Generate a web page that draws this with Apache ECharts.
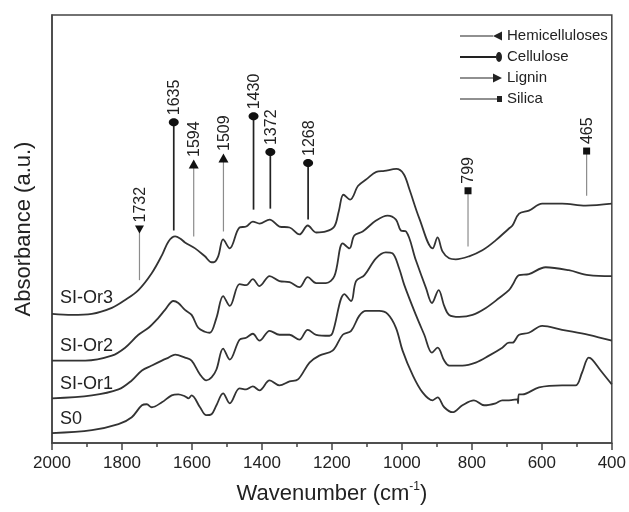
<!DOCTYPE html>
<html><head><meta charset="utf-8">
<script src="https://cdn.jsdelivr.net/npm/echarts@6/dist/echarts.min.js"></script>
<style>html,body{margin:0;padding:0;background:#fff}#c{width:629px;height:512px}</style>
</head><body><div id="c"></div>
<script>
// Spectra: [wavenumber (cm-1), absorbance (a.u., offset stacked)]
const specSIOr3 = [[2000,130],[1943,129],[1886,130],[1829,136],[1791,144],[1753,154],[1715,171],[1686,189],[1667,203],[1648,208],[1634,206],[1620,202],[1591,196],[1563,188],[1544,182],[1538,182],[1525,188],[1511,205],[1492,196],[1464,217],[1445,218],[1426,223],[1407,221],[1378,225],[1350,218],[1321,217],[1293,210],[1269,219],[1245,212],[1217,213],[1193,218],[1180,234],[1167,250],[1148,245],[1125,259],[1100,266],[1073,273],[1050,274],[1016,276],[995,271],[979,256],[950,226],[912,196],[898,207],[884,193],[865,186],[846,185],[808,188],[770,194],[732,204],[694,216],[684,219],[665,231],[637,234],[599,241],[542,241],[475,239],[400,241]];
const specSIOr2 = [[2000,83],[1905,83],[1829,88],[1791,96],[1753,109],[1724,116],[1696,126],[1677,134],[1653,143],[1639,141],[1620,134],[1601,129],[1582,116],[1563,112],[1549,111],[1530,126],[1511,148],[1492,138],[1464,160],[1445,159],[1426,165],[1407,158],[1378,168],[1350,163],[1321,162],[1293,157],[1269,167],[1245,161],[1217,161],[1193,168],[1169,201],[1150,196],[1136,209],[1112,213],[1074,224],[1041,229],[1017,225],[1003,214],[988,213],[960,184],[931,156],[914,141],[895,154],[879,138],[865,129],[836,127],[798,129],[760,136],[722,146],[694,154],[684,159],[665,169],[637,170],[589,177],[523,174],[466,169],[400,168]];
const specSIOr1 = [[2000,45],[1886,48],[1810,54],[1772,63],[1743,73],[1715,78],[1686,83],[1667,86],[1648,89],[1620,86],[1601,83],[1577,69],[1559,63],[1544,66],[1530,74],[1511,95],[1492,84],[1464,104],[1445,106],[1426,110],[1407,103],[1378,113],[1350,109],[1321,109],[1293,104],[1269,114],[1245,109],[1207,108],[1198,111],[1164,150],[1145,143],[1131,163],[1107,169],[1074,186],[1046,192],[1027,191],[1008,176],[993,159],[960,129],[936,109],[914,91],[898,96],[879,83],[865,78],[827,78],[789,81],[751,88],[713,96],[694,101],[684,101],[665,109],[637,111],[599,118],[542,114],[466,109],[400,103]];
const specS0 = [[2000,10],[1886,13],[1810,19],[1772,26],[1743,38],[1729,39],[1715,36],[1686,41],[1658,48],[1639,49],[1620,47],[1610,45],[1601,48],[1577,36],[1559,28],[1544,29],[1530,38],[1511,50],[1492,40],[1464,55],[1445,54],[1426,57],[1407,53],[1378,63],[1350,58],[1321,62],[1297,64],[1264,81],[1236,88],[1198,93],[1169,109],[1145,113],[1122,128],[1103,133],[1065,133],[1041,130],[1017,116],[998,93],[970,69],[941,51],[912,43],[898,46],[879,36],[855,31],[827,38],[794,43],[765,38],[732,40],[713,43],[694,43],[670,44],[668,40],[666,49],[656,49],[608,56],[542,58],[504,58],[485,71],[466,86],[456,84],[432,73],[400,59]];

// Sample name labels
const sampleNames = ['SI-Or3','SI-Or2','SI-Or1','S0'];
const sampleLabelWn = [1977,1977,1977,1977];
const sampleLabelVal = [146,97.5,59.5,24.5];

// Band assignments
const bandPos = [1750,1652,1595,1510,1424,1376,1268,811,472];
const bandLabel = ['1732','1635','1594','1509','1430','1372','1268','799','465'];
const bandTop = [215,323,281,287,329,293,282,254,294];
const bandBottom = [164,214,208,213,235,236,225,198,249];
const bandType = ['Hemicelluloses','Cellulose','Lignin','Lignin','Cellulose','Cellulose','Cellulose','Silica','Silica'];
const bandTypes = ['Hemicelluloses','Cellulose','Lignin','Silica'];

// X axis ticks
const xMin = 400, xMax = 2000, xStep = 200;

const FONT = 'Liberation Sans, Arial, Helvetica, sans-serif';

const legendIcons = {
  Hemicelluloses: 'path://M0,4.5H33V5.5H0Z M33,5L42,0.5L42,9.5Z',
  Cellulose: 'path://M0,4H36V6H0Z M39,0A3,5 0 1,1 39,10A3,5 0 1,1 39,0Z',
  Lignin: 'path://M0,4.5H33V5.5H0Z M33,0.5L42,5L33,9.5Z',
  Silica: 'path://M0,4.5H37V5.5H0Z M37,2H42V8H37Z'
};

function bandRender(type){
  return function(params, api){
    const x = api.value(0), top = api.value(1), bot = api.value(2), idx = api.value(3);
    const pT = api.coord([x, top]);
    const pB = api.coord([x, bot]);
    const cx = pT[0], cy = pT[1];
    const isCel = type === 'Cellulose';
    const children = [{
      type:'line', shape:{x1:cx, y1:cy, x2:pB[0], y2:pB[1]},
      style:{stroke: isCel ? '#222' : '#8c8c8c', lineWidth: isCel ? 1.7 : 1.2}
    }];
    let mk;
    if (type === 'Hemicelluloses') mk = {type:'polygon', shape:{points:[[cx-4.5,cy-4],[cx+4.5,cy-4],[cx,cy+4]]}};
    else if (type === 'Lignin') mk = {type:'polygon', shape:{points:[[cx-5,cy+4.5],[cx+5,cy+4.5],[cx,cy-4.5]]}};
    else if (type === 'Cellulose') mk = {type:'ellipse', shape:{cx:cx, cy:cy, rx:5, ry:4}};
    else mk = {type:'rect', shape:{x:cx-3.5, y:cy-3.5, width:7, height:7}};
    mk.style = {fill:'#111'};
    children.push(mk);
    children.push({
      type:'text', x: cx+1, y: cy-7, rotation: Math.PI/2,
      style:{text: bandLabel[idx], fill:'#222', font: '16px ' + FONT, align:'left', verticalAlign:'middle'}
    });
    return {type:'group', children: children};
  };
}

const bandSeries = bandTypes.map(function(t){
  const d = [];
  bandPos.forEach(function(p, i){ if (bandType[i] === t) d.push([p, bandTop[i], bandBottom[i], i]); });
  return {name:t, type:'custom', renderItem: bandRender(t), data:d, itemStyle:{color:'#222'}, z:5, silent:true};
});

function lineSeries(name, data){
  return {name:name, type:'line', data:data, symbol:'none', smooth:0.35, silent:true,
    lineStyle:{color:'#333', width:1.8}, itemStyle:{color:'#333'}};
}

const chart = echarts.init(document.getElementById('c'), null, {renderer:'canvas'});
chart.setOption({
  animation:false,
  backgroundColor:'#fff',
  grid:{left:52, right:16, top:15, bottom:66, show:true, borderColor:'#444', borderWidth:1.5, containLabel:false},
  legend:{
    orient:'vertical', left:455, top:23, itemWidth:42, itemHeight:12, itemGap:5, selectedMode:false,
    textStyle:{fontSize:15, color:'#222', fontFamily:FONT, lineHeight:16},
    data: bandTypes.map(function(t){ return {name:t, icon:legendIcons[t], itemStyle:{color:'#222'}}; })
  },
  xAxis:{
    type:'value', inverse:true, min:xMin, max:xMax, interval:xStep,
    name:'Wavenumber (cm{sup|-1})', nameLocation:'middle', nameGap:38,
    nameTextStyle:{fontSize:22, color:'#222', fontFamily:FONT, lineHeight:26,
      rich:{sup:{fontSize:12, verticalAlign:'top', lineHeight:12, color:'#222', fontFamily:FONT}}},
    axisLine:{show:true, lineStyle:{color:'#444', width:1.5}},
    axisTick:{show:true, inside:false, length:7, lineStyle:{color:'#444', width:1.5}},
    minorTick:{show:true, splitNumber:2, length:4, lineStyle:{color:'#444', width:1.5}},
    axisLabel:{fontSize:17, color:'#222', fontFamily:FONT, margin:12, formatter:function(v){ return String(v); }},
    splitLine:{show:false}
  },
  yAxis:{
    type:'value', min:0, max:431,
    name:'Absorbance (a.u.)', nameLocation:'middle', nameGap:17,
    nameTextStyle:{fontSize:22, color:'#222', fontFamily:FONT},
    axisLine:{show:true, lineStyle:{color:'#444', width:1.5}},
    axisTick:{show:false}, axisLabel:{show:false}, splitLine:{show:false}
  },
  series: [
    lineSeries('SI-Or3', specSIOr3),
    lineSeries('SI-Or2', specSIOr2),
    lineSeries('SI-Or1', specSIOr1),
    lineSeries('S0', specS0),
    {
      name:'sampleLabels', type:'custom', silent:true, z:6,
      data: sampleNames.map(function(n, i){ return [sampleLabelWn[i], sampleLabelVal[i], i]; }),
      renderItem: function(params, api){
        const p = api.coord([api.value(0), api.value(1)]);
        return {type:'text', x:p[0], y:p[1], style:{text: sampleNames[api.value(2)], fill:'#222', font:'18px ' + FONT, align:'left', verticalAlign:'middle'}};
      }
    }
  ].concat(bandSeries)
});
</script>
</body></html>
